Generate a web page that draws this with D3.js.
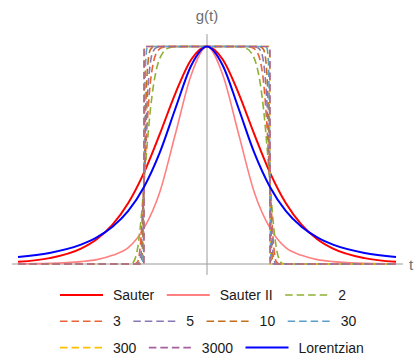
<!DOCTYPE html>
<html>
    <head>
        <script src="https://d3js.org/d3.v7.min.js"></script>
        <style>
            body { margin: 0; background: white; }
            text { font-family: "Liberation Sans", Arial, sans-serif; }
        </style>
    </head>
    <body>
        <svg id="svg" width=416 height=356></svg>
        <script>
            // Solid curves share one t grid
            const tSolid = [-3, -2.5, -2, -1.75, -1.5, -1.25, -1, -0.75, -0.5, -0.25, 0,
                            0.25, 0.5, 0.75, 1, 1.25, 1.5, 1.75, 2, 2.5, 3];
            const gSauter = [0.0099, 0.027, 0.071, 0.114, 0.181, 0.280, 0.42, 0.597, 0.786, 0.94, 1,
                             0.94, 0.786, 0.597, 0.42, 0.280, 0.181, 0.114, 0.071, 0.027, 0.0099];
            const gSauter2 = [0.001, 0.003, 0.011, 0.02, 0.04, 0.075, 0.165, 0.33, 0.60, 0.87, 1,
                              0.87, 0.60, 0.33, 0.165, 0.075, 0.04, 0.02, 0.011, 0.003, 0.001];
            const gLorentz = [0.032, 0.051, 0.089, 0.122, 0.171, 0.244, 0.354, 0.512, 0.716, 0.913, 1,
                              0.913, 0.716, 0.512, 0.354, 0.244, 0.171, 0.122, 0.089, 0.051, 0.032];

            // Flat-top pulses, one grid each
            const t2 = [-3, -1.3, -1.2, -1.15, -1.1, -1.05, -1, -0.95, -0.9, -0.85, -0.8, -0.7, -0.6, -0.5, 0,
                        0.5, 0.6, 0.7, 0.8, 0.85, 0.9, 0.95, 1, 1.05, 1.1, 1.15, 1.2, 1.3, 3];
            const g2 = [0, 0, 0.002, 0.018, 0.075, 0.196, 0.368, 0.549, 0.706, 0.821, 0.898, 0.972, 0.994, 0.999, 1,
                        0.999, 0.994, 0.972, 0.898, 0.821, 0.706, 0.549, 0.368, 0.196, 0.075, 0.018, 0.002, 0, 0];
            const t3 = [-3, -1.2, -1.15, -1.1, -1.05, -1, -0.95, -0.9, -0.85, -0.8, -0.7, -0.6, 0,
                        0.6, 0.7, 0.8, 0.85, 0.9, 0.95, 1, 1.05, 1.1, 1.15, 1.2, 3];
            const g3 = [0, 0, 0.0001, 0.010, 0.113, 0.368, 0.644, 0.831, 0.928, 0.972, 0.997, 1, 1,
                        1, 0.997, 0.972, 0.928, 0.831, 0.644, 0.368, 0.113, 0.010, 0.0001, 0, 0];
            const t5 = [-3, -1.1, -1.05, -1.025, -1, -0.975, -0.95, -0.9, -0.85, -0.8, -0.7, 0,
                        0.7, 0.8, 0.85, 0.9, 0.95, 0.975, 1, 1.025, 1.05, 1.1, 3];
            const g5 = [0, 0, 0.040, 0.164, 0.368, 0.580, 0.747, 0.923, 0.980, 0.995, 1, 1,
                        1, 0.995, 0.980, 0.923, 0.747, 0.580, 0.368, 0.164, 0.040, 0, 0];
            const t10 = [-3, -1.05, -1.025, -1, -0.975, -0.95, -0.9, -0.85, -0.8, 0,
                         0.8, 0.85, 0.9, 0.95, 0.975, 1, 1.025, 1.05, 3];
            const g10 = [0, 0.001, 0.068, 0.368, 0.695, 0.879, 0.985, 0.998, 1, 1,
                         1, 0.998, 0.985, 0.879, 0.695, 0.368, 0.068, 0.001, 0];
            const t30 = [-3, -1.025, -1.01, -1, -0.99, -0.975, -0.95, -0.9, 0,
                         0.9, 0.95, 0.975, 0.99, 1, 1.01, 1.025, 3];
            const g30 = [0, 0, 0.067, 0.368, 0.693, 0.924, 0.994, 1, 1,
                         1, 0.994, 0.924, 0.693, 0.368, 0.067, 0, 0];
            const t300 = [-3, -1.005, -1, -0.995, -0.99, -0.98, 0, 0.98, 0.99, 0.995, 1, 1.005, 3];
            const g300 = [0, 0, 0.368, 0.952, 0.998, 1, 1, 1, 0.998, 0.952, 0.368, 0, 0];
            const t3000 = [-3, -1.001, -1, -0.999, -0.99, 0, 0.99, 0.999, 1, 1.001, 3];
            const g3000 = [0, 0, 0.368, 0.993, 1, 1, 1, 0.993, 0.368, 0, 0];

            const labels = ["Sauter", "Sauter II", "2", "3", "5", "10", "30", "300", "3000", "Lorentzian"];
            const colors = ["#ff0000", "#ff8080", "#8fb032", "#eb6235", "#8778b3", "#c56e1a",
                            "#5d9ec7", "#ffbf00", "#a5609d", "#0000ff"];
            const dashed = [false, false, true, true, true, true, true, true, true, false];
            const legendRows = [[0, 1, 2], [3, 4, 5, 6], [7, 8, 9]];

            const series = [
                [tSolid, gSauter], [tSolid, gSauter2], [t2, g2], [t3, g3], [t5, g5],
                [t10, g10], [t30, g30], [t300, g300], [t3000, g3000], [tSolid, gLorentz]
            ];

            const svg = d3.select("svg#svg");

            const xScale = d3.scaleLinear().domain([-3, 3]).range([18, 396]);
            const yScale = d3.scaleLinear().domain([0, 1]).range([264, 46.5]);

            // Axes
            let axes = svg.append("g").attr("id", "axes")
                          .attr("stroke", "#9a9a9a").attr("stroke-width", 1);
            axes.append("line")
                .attr("x1", xScale(-3.095)).attr("x2", xScale(3.11))
                .attr("y1", yScale(0)).attr("y2", yScale(0));
            axes.append("line")
                .attr("x1", xScale(0)).attr("x2", xScale(0))
                .attr("y1", yScale(-0.05)).attr("y2", yScale(1.057));

            svg.append("text")
               .attr("x", xScale(0)).attr("y", 21)
               .attr("text-anchor", "middle")
               .attr("font-size", 15).attr("fill", "#6e6e6e")
               .text("g(t)");
            svg.append("text")
               .attr("x", 409).attr("y", 270)
               .attr("font-size", 15).attr("fill", "#6e6e6e")
               .text("t");

            // Curves
            const lineGen = d3.line()
                              .x(d => xScale(d[0]))
                              .y(d => yScale(d[1]))
                              .curve(d3.curveMonotoneX);

            let chartArea = svg.append("g").attr("id", "chartArea");
            series.forEach((s, i) => {
                chartArea.append("path")
                         .attr("fill", "none")
                         .attr("stroke", colors[i])
                         .attr("stroke-width", dashed[i] ? 1.6 : (i == 1 ? 1.6 : 2))
                         .attr("stroke-dasharray", dashed[i] ? "7.5,4" : null)
                         .attr("d", lineGen(d3.zip(s[0], s[1])));
            });

            // Legend
            let legend = svg.append("g").attr("id", "legend");
            legendRows.forEach((row, r) => {
                let x = 60;
                let y = 295 + r * 26.3;
                row.forEach(i => {
                    legend.append("line")
                          .attr("x1", x).attr("x2", x + 43)
                          .attr("y1", y).attr("y2", y)
                          .attr("stroke", colors[i])
                          .attr("stroke-width", dashed[i] ? 1.6 : 2)
                          .attr("stroke-dasharray", dashed[i] ? "7.5,4" : null);
                    let txt = legend.append("text")
                                    .attr("x", x + 53).attr("y", y + 5)
                                    .attr("font-size", 14).attr("fill", "#1a1a1a")
                                    .text(labels[i]);
                    x = x + 53 + txt.node().getComputedTextLength() + 12.5;
                });
            });
        </script>
    </body>
</html>
